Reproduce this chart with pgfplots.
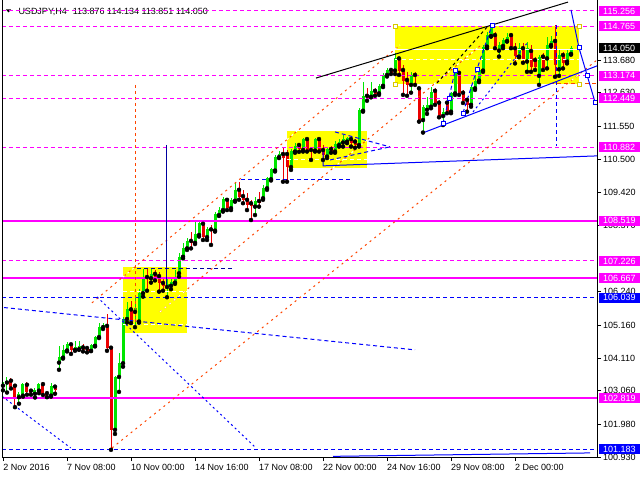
\documentclass[border=0pt]{standalone}
\usepackage{pgfplots}
\pgfplotsset{compat=1.18}
\usepackage{pgfplotstable}
\usepackage{fontspec}
\setmainfont{Liberation Sans}
\definecolor{bull}{RGB}{0,230,0}
\definecolor{bear}{RGB}{235,0,0}
\definecolor{mag}{RGB}{255,0,255}
\definecolor{oran}{RGB}{255,69,0}
\definecolor{boxy}{RGB}{255,255,0}
\definecolor{navy}{RGB}{0,0,160}
\definecolor{sqy}{RGB}{215,200,0}
\tikzset{
 mdash/.style={mag, line width=1pt, dash pattern=on 4pt off 3pt},
 msolid/.style={mag, line width=2pt},
 bdash/.style={blue, line width=1pt, dash pattern=on 4pt off 3pt},
 bdot/.style={blue, line width=1pt, dash pattern=on 2pt off 3pt},
 odot/.style={oran, line width=1pt, dash pattern=on 2pt off 4pt},
 wdot/.style={white, line width=1pt, dash pattern=on 2pt off 4pt},
 wdash/.style={white, line width=1pt, dash pattern=on 4pt off 3pt},
}
\newcommand{\plab}[3]{%
 \fill[#2] ([xshift=2pt,yshift=-5pt]#1) rectangle ([xshift=43pt,yshift=5pt]#1);
 \node[anchor=west, inner sep=0pt, text=white, font=\fontsize{9}{10}\selectfont] at ([xshift=6pt]#1) {#3};}

\pgfplotstableread{
x o h l c
3 103.22 103.41 103.07 103.35
7 103.32 103.51 103.00 103.38
19 102.85 103.02 102.64 102.94
23 102.90 103.30 102.87 103.28
35 102.96 103.14 102.84 103.09
39 103.06 103.32 102.98 103.27
51 102.90 103.29 102.87 103.22
59 103.96 104.50 103.73 104.15
63 104.12 104.52 104.09 104.37
67 104.35 104.63 104.32 104.55
75 104.37 104.66 104.34 104.45
79 104.39 104.66 104.37 104.50
91 104.34 104.56 104.33 104.53
95 104.50 104.80 104.48 104.78
99 104.78 105.23 104.75 105.11
103 105.10 105.23 105.04 105.17
115 101.80 103.52 101.67 103.50
119 103.50 104.27 103.02 103.94
123 103.94 105.44 103.83 105.36
127 105.36 105.92 105.25 105.67
135 105.59 106.10 105.10 105.72
139 105.28 106.33 105.24 106.19
143 106.19 106.96 106.08 106.71
151 106.67 106.96 106.53 106.81
167 106.39 106.67 106.06 106.49
171 106.43 106.67 106.32 106.56
175 106.53 106.94 106.49 106.67
179 106.83 107.47 106.72 107.36
183 107.36 107.80 107.31 107.63
187 107.63 107.96 107.58 107.87
195 107.81 108.52 107.77 108.09
199 108.06 108.52 108.01 108.46
207 107.99 108.33 107.90 108.24
215 108.20 108.81 108.17 108.73
219 108.70 108.97 108.67 108.86
223 108.86 109.27 108.81 109.21
231 108.92 109.24 108.86 109.19
235 109.16 109.77 109.13 109.51
255 108.97 109.27 108.70 109.16
263 109.24 109.67 109.19 109.58
267 109.56 109.93 109.51 109.88
271 109.85 110.20 109.81 110.17
275 110.13 110.63 110.10 110.58
279 110.56 110.76 110.53 110.66
291 110.24 110.82 110.15 110.76
295 110.74 111.01 110.70 110.93
303 110.79 111.18 110.74 111.14
315 110.77 111.17 110.74 111.14
327 110.58 110.89 110.53 110.81
335 110.74 111.08 110.70 110.98
339 110.95 111.14 110.90 111.06
343 111.03 111.27 110.90 111.14
347 111.06 111.22 111.01 111.17
359 110.95 112.13 110.90 112.08
363 112.05 112.98 112.02 112.53
371 112.50 112.98 112.48 112.69
379 112.61 112.91 112.56 112.85
383 112.85 113.26 112.81 113.20
387 113.20 113.41 113.15 113.36
395 113.34 113.90 113.23 113.73
411 112.88 113.30 112.63 113.20
423 111.75 112.24 111.35 112.18
427 112.08 112.50 111.95 112.24
431 112.18 112.80 112.13 112.66
443 111.88 112.13 111.59 112.02
451 112.02 112.66 111.97 112.61
455 112.61 113.36 112.56 113.27
471 112.24 112.88 112.18 112.82
475 112.77 113.20 112.72 113.02
479 113.02 113.42 112.97 113.36
483 113.34 114.16 113.30 114.11
487 114.11 114.59 114.06 114.48
491 114.45 114.80 114.43 114.70
499 113.98 114.27 113.79 114.16
503 114.13 114.38 114.06 114.32
507 114.29 114.54 114.27 114.43
519 113.79 114.22 113.77 114.06
527 113.63 114.27 113.30 114.08
539 113.17 113.84 112.88 113.79
547 113.73 114.43 113.41 114.16
551 114.16 114.45 114.11 114.29
559 113.38 114.00 113.17 113.84
567 113.63 114.00 113.57 113.90
571 113.876 114.134 113.851 114.050
}\upT

\pgfplotstableread{
x o h l c
11 103.38 103.47 103.13 103.19
15 103.22 103.25 102.53 102.86
27 103.25 103.35 102.93 103.03
31 103.06 103.11 102.93 102.98
43 103.27 103.35 102.92 102.96
47 102.98 103.03 102.85 102.87
55 103.19 103.22 102.96 103.07
71 104.55 104.59 104.24 104.37
83 104.45 104.55 104.32 104.37
87 104.43 104.50 104.29 104.34
107 105.14 105.53 104.34 104.44
111 104.44 104.46 101.16 101.80
131 105.67 105.95 105.23 105.26
147 106.71 106.97 106.27 106.64
155 106.81 106.94 106.60 106.71
159 106.74 106.88 106.24 106.52
163 106.52 106.67 106.27 106.43
191 107.87 108.17 107.63 107.81
203 108.42 108.49 107.90 107.99
211 108.24 108.38 107.74 108.20
227 109.19 109.25 108.86 108.92
239 109.51 109.77 109.19 109.29
243 109.31 109.51 109.08 109.19
247 109.19 109.42 108.86 109.03
251 109.08 109.19 108.54 108.98
259 109.15 109.45 108.97 109.08
283 110.66 110.90 109.77 110.53
287 110.66 110.79 109.77 110.24
299 110.95 111.02 110.73 110.81
307 111.14 111.17 110.74 110.77
311 110.79 110.90 110.47 110.76
319 111.14 111.17 110.74 110.79
323 110.79 110.95 110.47 110.63
331 110.82 110.92 110.70 110.74
351 111.14 111.21 110.90 111.03
355 111.06 111.14 110.86 110.95
367 112.53 112.77 112.37 112.43
375 112.69 112.78 112.53 112.59
391 113.36 113.42 113.23 113.27
399 113.73 113.79 113.20 113.34
403 113.36 113.52 112.56 113.02
407 113.04 113.30 112.53 112.88
415 113.20 113.30 112.88 113.17
419 112.77 112.82 111.70 111.75
435 112.69 112.77 112.24 112.31
439 112.31 112.40 111.84 111.88
447 112.31 112.42 111.97 112.02
459 113.27 113.34 112.56 112.63
463 112.63 112.72 112.30 112.37
467 112.40 112.45 112.02 112.24
495 114.48 114.59 114.06 114.13
511 114.48 114.54 114.06 114.09
515 114.06 114.22 113.57 113.81
523 114.06 114.22 113.59 113.68
531 113.97 114.16 113.30 113.47
535 113.68 113.79 113.36 113.47
543 113.79 113.90 113.36 113.41
555 114.29 114.80 113.14 113.52
563 113.84 113.95 113.41 113.57
}\dnT

\begin{document}
\begin{tikzpicture}[x=1pt,y=1pt]
\useasboundingbox (0,0) rectangle (640,480);
\fill[white] (0,0) rectangle (640,480);
\fill[black] (6,470.5) -- (11,470.5) -- (8.5,467.5) -- cycle;
\node[anchor=base west, inner sep=0pt, font=\fontsize{9}{10}\selectfont] at (18.3,465.8) {USDJPY,H4\hspace{6pt}113.876 114.134 113.851 114.050};
\begin{axis}[
 at={(2pt,23pt)}, anchor=south west, scale only axis,
 width=595pt, height=457pt,
 xmin=2, xmax=597, ymin=100.929, ymax=115.607,
 axis line style={draw=none},
 tick align=outside, major tick length=4pt,
 tick style={black, line width=0.8pt},
 xtick pos=bottom, ytick pos=right,
 xtick={3.3,67,131,195,259,323,387,451,515},
 xticklabels={2 Nov 2016, 7 Nov 08:00, 10 Nov 00:00, 14 Nov 16:00, 17 Nov 08:00, 22 Nov 00:00, 24 Nov 16:00, 29 Nov 08:00, 2 Dec 00:00},
 ytick={113.68,112.63,111.55,110.50,109.42,108.37,106.24,105.16,104.11,103.06,101.98,100.93},
 yticklabels={113.680,112.630,111.550,110.500,109.420,108.370,106.240,105.160,104.110,103.060,101.980,100.930},
 tick label style={font=\fontsize{9}{10}\selectfont, inner sep=0pt},
 xticklabel style={anchor=north west, yshift=-3pt},
 yticklabel style={anchor=west, xshift=2pt},
]
% yellow boxes
\addplot[fill=boxy, draw=none] coordinates {(123,104.91) (187,104.91) (187,107.03) (123,107.03)};
\addplot[fill=boxy, draw=none] coordinates {(287,110.21) (367,110.21) (367,111.40) (287,111.40)};
\addplot[fill=boxy, draw=none] coordinates {(395,112.91) (579,112.91) (579,114.77) (395,114.77)};
% candles
\addplot[only marks, mark=none, error bars/.cd, y dir=plus, y explicit, error mark=none, error bar style={line width=1pt, bull}] table[x=x, y=l, y error plus expr=\thisrow{h}-\thisrow{l}] {\upT};
\addplot[only marks, mark=none, error bars/.cd, y dir=plus, y explicit, error mark=none, error bar style={line width=1pt, bear}] table[x=x, y=l, y error plus expr=\thisrow{h}-\thisrow{l}] {\dnT};
\addplot[only marks, mark=none, error bars/.cd, y dir=plus, y explicit, error mark=none, error bar style={line width=3pt, bull}] table[x=x, y=o, y error plus expr=\thisrow{c}-\thisrow{o}] {\upT};
\addplot[only marks, mark=none, error bars/.cd, y dir=minus, y explicit, error mark=none, error bar style={line width=3pt, bear}] table[x=x, y=o, y error minus expr=\thisrow{o}-\thisrow{c}] {\dnT};
% white lines inside boxes
\addplot[wdash] coordinates {(123,106.24) (187,106.24)};
\addplot[wdash] coordinates {(123,105.20) (187,105.20)};
\addplot[wdash] coordinates {(287,110.49) (367,110.49)};
\addplot[white, line width=1pt] coordinates {(395,114.02) (579,114.02)};
\addplot[wdash] coordinates {(395,113.68) (579,113.68)};
% horizontal levels
\addplot[mdash] coordinates {(2,115.256) (597,115.256)};
\addplot[mdash] coordinates {(2,114.765) (597,114.765)};
\addplot[mdash] coordinates {(2,113.174) (597,113.174)};
\addplot[mdash] coordinates {(2,112.449) (597,112.449)};
\addplot[mdash] coordinates {(2,110.882) (597,110.882)};
\addplot[mdash] coordinates {(2,107.226) (597,107.226)};
\addplot[msolid] coordinates {(2,108.519) (597,108.519)};
\addplot[msolid] coordinates {(2,106.667) (597,106.667)};
\addplot[msolid] coordinates {(2,102.819) (597,102.819)};
\addplot[bdash] coordinates {(2,106.039) (597,106.039)};
\addplot[bdash] coordinates {(2,101.183) (597,101.183)};
% orange channel lines
\addplot[odot] coordinates {(92,105.88) (400,114.16)};
\addplot[odot] coordinates {(160,105.59) (480,114.13)};
\addplot[odot] coordinates {(112,101.22) (597,113.68)};
\addplot[wdot] coordinates {(123,106.71) (135,107.03)};
\addplot[wdot] coordinates {(287,111.12) (297,111.40)};
\addplot[wdot] coordinates {(395,114.03) (400,114.16)};
\addplot[wdot] coordinates {(160,105.59) (187,106.31)};
\addplot[wdot] coordinates {(333,110.21) (367,111.11)};
\addplot[wdot] coordinates {(434,112.91) (480,114.13)};
\addplot[wdot] coordinates {(567,112.91) (579,113.22)};
\addplot[oran, line width=1pt, dash pattern=on 3pt off 3pt] coordinates {(135,112.88) (135,105.01)};
\addplot[oran, line width=1pt, dash pattern=on 4pt off 3pt] coordinates {(550,112.91) (597,112.91)};
% blue lines
\addplot[bdot] coordinates {(2,102.88) (70.7,101.22)};
\addplot[bdash] coordinates {(4,105.73) (415,104.37)};
\addplot[bdot] coordinates {(97,106.07) (256,101.22)};
\addplot[navy, line width=1pt, dash pattern=on 4pt off 3pt] coordinates {(137,106.97) (232,106.97)};
\addplot[bdash] coordinates {(241,109.83) (352,109.83)};
\addplot[blue, line width=1pt] coordinates {(323,110.79) (323,110.28) (597,110.60)};
\addplot[bdash] coordinates {(335,111.37) (390,110.89)};
\addplot[bdash] coordinates {(330,110.47) (390,110.89)};
\addplot[blue, line width=1pt] coordinates {(423,111.34) (597,113.49)};
\addplot[bdash] coordinates {(443,111.63) (449,112.46) (455,113.33)};
\addplot[bdash] coordinates {(463,111.98) (477,113.39) (492,114.80)};
\addplot[bdot] coordinates {(473,112.01) (528,114.26)};
\addplot[blue, line width=1pt] coordinates {(571,115.29) (579,114.07) (587,113.20) (595,112.33)};
\addplot[bdash] coordinates {(556,114.80) (556,110.92)};
\addplot[blue, line width=1pt] coordinates {(333,100.95) (590,101.06)};
\addplot[navy, line width=1pt] coordinates {(166.5,110.95) (166.5,106.39)};
% black lines
\addplot[black, line width=1pt] coordinates {(316,113.10) (568,115.54)};
\addplot[black, line width=1pt, dash pattern=on 3pt off 3pt] coordinates {(437,112.94) (488,114.77)};
% squares
\addplot[only marks, mark=square*, mark size=2pt, mark options={draw=blue, fill=white, line width=0.8pt}] coordinates {(443,111.63) (449,112.46) (455,113.33) (463,111.98) (477,113.39) (492,114.80) (579,114.07) (587,113.20) (595,112.33)};
\addplot[only marks, mark=square*, mark size=2pt, mark options={draw=sqy, fill=white, line width=0.8pt}] coordinates {(395,114.77) (395,112.91) (579,114.77) (579,112.91)};
% label anchors
\coordinate (a1) at (axis cs:597,115.256);
\coordinate (a2) at (axis cs:597,114.765);
\coordinate (a3) at (axis cs:597,114.050);
\coordinate (a4) at (axis cs:597,113.174);
\coordinate (a5) at (axis cs:597,112.449);
\coordinate (a6) at (axis cs:597,110.882);
\coordinate (a7) at (axis cs:597,108.519);
\coordinate (a8) at (axis cs:597,107.226);
\coordinate (a9) at (axis cs:597,106.667);
\coordinate (a10) at (axis cs:597,106.039);
\coordinate (a11) at (axis cs:597,102.819);
\coordinate (a12) at (axis cs:597,101.183);
\end{axis}
\draw[black, line width=1pt] (2.5,480) -- (2.5,23) -- (597,23) -- (597,480);
\plab{a1}{mag}{115.256}
\plab{a2}{mag}{114.765}
\plab{a3}{black}{114.050}
\plab{a4}{mag}{113.174}
\plab{a5}{mag}{112.449}
\plab{a6}{mag}{110.882}
\plab{a7}{mag}{108.519}
\plab{a8}{mag}{107.226}
\plab{a9}{mag}{106.667}
\plab{a10}{blue}{106.039}
\plab{a11}{mag}{102.819}
\plab{a12}{blue}{101.183}
\end{tikzpicture}
\end{document}
